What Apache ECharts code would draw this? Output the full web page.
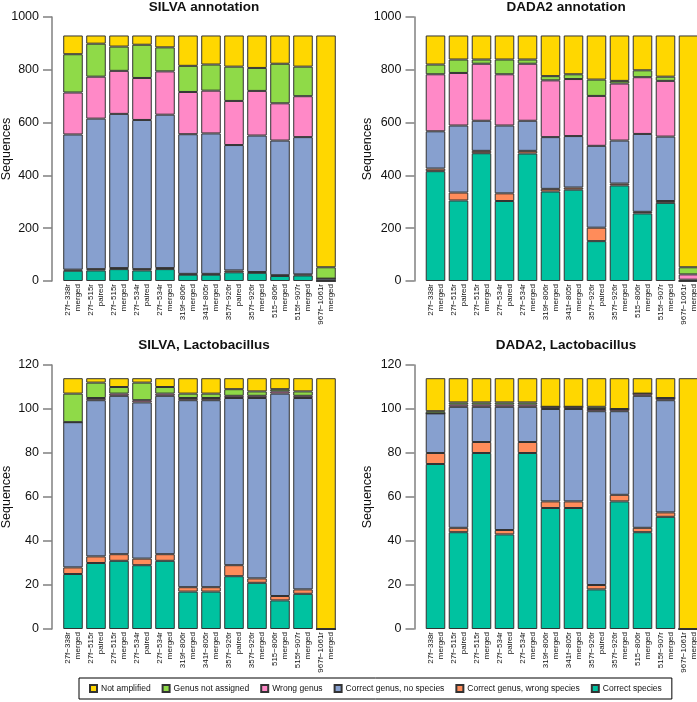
<!DOCTYPE html>
<html><head><meta charset="utf-8">
<script src="https://cdn.jsdelivr.net/npm/echarts@6/dist/echarts.min.js"></script>
<style>html,body{margin:0;padding:0;background:#fff}#c{width:697px;height:702px}</style>
</head><body><div id="c"></div>
<script>
const categories = ['27f\u2212338r\nmerged','27f\u2212515r\npaired','27f\u2212515r\nmerged','27f\u2212534r\npaired','27f\u2212534r\nmerged','319f\u2212806r\nmerged','341f\u2212805r\nmerged','357f\u2212926r\npaired','357f\u2212926r\nmerged','515\u2212806r\nmerged','515f\u2212907r\nmerged','967f\u22121061r\nmerged'];
const seriesNames = ['Correct species','Correct genus, wrong species','Correct genus, no species','Wrong genus','Genus not assigned','Not amplified'];
const legendOrder = ['Not amplified','Genus not assigned','Wrong genus','Correct genus, no species','Correct genus, wrong species','Correct species'];
const panelTitles = ['SILVA annotation','DADA2 annotation','SILVA, Lactobacillus','DADA2, Lactobacillus'];
const yMaxTop = 1000, yMaxBottom = 120;

// SILVA annotation
const silvaCorrectSpecies   = [39,40,45,40,45,24,24,33,31,19,21,0];
const silvaWrongSpecies     = [4,5,4,5,4,3,3,7,3,3,4,0];
const silvaNoSpecies        = [512,570,584,565,581,529,532,475,517,510,520,9];
const silvaWrongGenus       = [159,159,163,159,164,160,162,167,169,141,155,0];
const silvaNotAssigned      = [145,125,92,126,91,99,99,130,87,150,112,43];
const silvaNotAmplified     = [71,31,42,35,45,115,110,118,123,107,118,878];

// DADA2 annotation
const dadaCorrectSpecies    = [416,305,484,303,483,339,346,151,362,256,296,0];
const dadaWrongSpecies      = [10,30,9,29,10,10,8,51,7,6,7,0];
const dadaNoSpecies         = [141,254,114,257,114,196,195,310,163,295,244,5];
const dadaWrongGenus        = [216,199,216,194,216,215,216,189,216,215,211,20];
const dadaNotAssigned       = [37,51,16,56,16,16,18,62,10,26,16,27];
const dadaNotAmplified      = [110,91,91,91,91,154,147,167,172,132,156,878];

// SILVA, Lactobacillus
const silvaLCorrectSpecies  = [25,30,31,29,31,17,17,24,21,13,16,0];
const silvaLWrongSpecies    = [3,3,3,3,3,2,2,5,2,2,2,0];
const silvaLNoSpecies       = [66,71,72,71,72,85,85,76,82,92,87,0];
const silvaLWrongGenus      = [0,1,1,1,1,1,1,1,1,1,1,0];
const silvaLNotAssigned     = [13,7,3,8,3,2,2,3,2,1,2,0];
const silvaLNotAmplified    = [7,2,4,2,4,7,7,5,6,5,6,114];

// DADA2, Lactobacillus
const dadaLCorrectSpecies   = [75,44,80,43,80,55,55,18,58,44,51,0];
const dadaLWrongSpecies     = [5,2,5,2,5,3,3,2,3,2,2,0];
const dadaLNoSpecies        = [18,55,16,56,16,42,42,79,38,60,51,0];
const dadaLWrongGenus       = [0,1,1,1,1,1,1,1,1,1,1,0];
const dadaLNotAssigned      = [1,1,1,1,1,0,0,1,0,0,0,0];
const dadaLNotAmplified     = [15,11,11,11,11,13,13,13,14,7,9,114];

const panels = [
  [silvaCorrectSpecies,silvaWrongSpecies,silvaNoSpecies,silvaWrongGenus,silvaNotAssigned,silvaNotAmplified],
  [dadaCorrectSpecies,dadaWrongSpecies,dadaNoSpecies,dadaWrongGenus,dadaNotAssigned,dadaNotAmplified],
  [silvaLCorrectSpecies,silvaLWrongSpecies,silvaLNoSpecies,silvaLWrongGenus,silvaLNotAssigned,silvaLNotAmplified],
  [dadaLCorrectSpecies,dadaLWrongSpecies,dadaLNoSpecies,dadaLWrongGenus,dadaLNotAssigned,dadaLNotAmplified]
];
const colors = ['#00C2A0','#FF8C5A','#87A0CF','#FF89C7','#8FDA48','#FFD700'];

const FONT = 'Liberation Sans, Arial, sans-serif';
const gridPos = [
  {left:61.5, top:17, width:276, height:264, outerBoundsMode:'none', containLabel:false},
  {left:424, top:17, width:276, height:264, outerBoundsMode:'none', containLabel:false},
  {left:61.5, top:365, width:276, height:264, outerBoundsMode:'none', containLabel:false},
  {left:424, top:365, width:276, height:264, outerBoundsMode:'none', containLabel:false}
];
const titleCenters = [[199,-5],[561,-5],[199,333],[561,333]];
const nameGaps = [39, 40, 39, 40];

const option = {
  animation:false,
  color: colors,
  title: panelTitles.map((t,i)=>({text:t, left:titleCenters[i][0], top:titleCenters[i][1], textAlign:'center',
    textStyle:{fontFamily:FONT,fontSize:13.5,fontWeight:'bold',color:'#111'}})),
  grid: gridPos,
  xAxis: gridPos.map((g,i)=>({type:'category', gridIndex:i, data:categories,
    axisLine:{show:false}, axisTick:{show:false},
    axisLabel:{interval:0, rotate:90, fontFamily:FONT, fontSize:8, lineHeight:10, color:'#111', margin:3}})),
  yAxis: gridPos.map((g,i)=>({type:'value', gridIndex:i, min:0, max: i<2?yMaxTop:yMaxBottom, interval: i<2?200:20,
    offset:9.5, name:'Sequences', nameLocation:'middle', nameRotate:90, nameGap:nameGaps[i], nameMoveOverlap:false,
    nameTextStyle:{fontFamily:FONT,fontSize:12.5,color:'#111'},
    splitLine:{show:false},
    axisLine:{show:true, lineStyle:{color:'#808080', width:1.5}},
    axisTick:{show:true, length:9, lineStyle:{color:'#808080', width:1.5}},
    axisLabel:{fontFamily:FONT, fontSize:12.5, color:'#111', margin:13, formatter:v=>String(v)}})),
  legend: {
    data: legendOrder, bottom:3, left:79, orient:'horizontal',
    itemWidth:7, itemHeight:7, itemGap:11, icon:'rect',
    borderColor:'#000', borderWidth:1, padding:[6,10,6,10],
    textStyle:{fontFamily:FONT,fontSize:8.5,color:'#111', padding:[0,0,0,-1]}
  },
  series: []
};
panels.forEach((p,pi)=>{
  p.forEach((vals,si)=>{
    option.series.push({
      type:'bar', name:seriesNames[si], stack:'s'+pi, xAxisIndex:pi, yAxisIndex:pi,
      data:vals, barCategoryGap:'15%',
      itemStyle:{color:colors[si], borderColor:'#333', borderWidth:1},
      emphasis:{disabled:true}
    });
  });
});
const chart = echarts.init(document.getElementById('c'), null, {renderer:'canvas'});
chart.setOption(option);
</script>
</body></html>
